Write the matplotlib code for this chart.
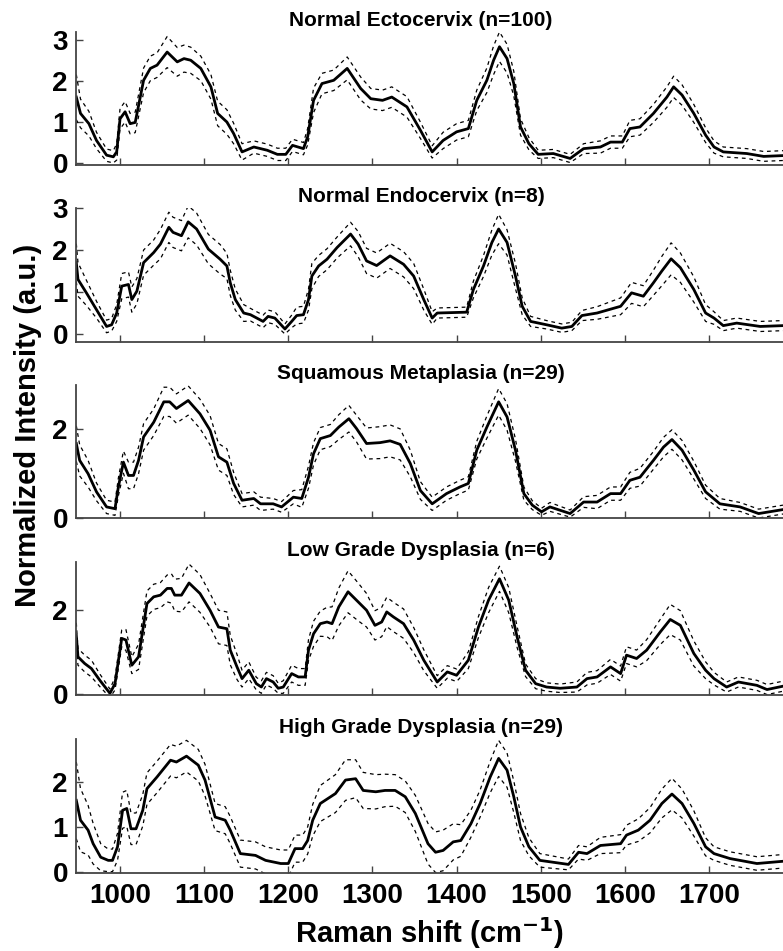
import matplotlib
matplotlib.use("Agg")
import matplotlib.pyplot as plt
import numpy as np

# panel titles and y ticks
titles = ["Normal Ectocervix (n=100)", "Normal Endocervix (n=8)",
          "Squamous Metaplasia (n=29)", "Low Grade Dysplasia (n=6)",
          "High Grade Dysplasia (n=29)"]
yticks = [[0, 1, 2, 3], [0, 1, 2, 3], [0, 2], [0, 2], [0, 1, 2]]
ylims = [(-0.05, 3.2), (-0.19, 3.0), (0, 3.0), (-0.02, 3.15), (-0.02, 2.95)]
xticks = [1000, 1100, 1200, 1300, 1400, 1500, 1600, 1700]

# Normal Ectocervix: mean and std
x1 = [948, 953, 963, 972, 984, 992, 996, 1000, 1006, 1012, 1018, 1028, 1036, 1044, 1056, 1068, 1076, 1084, 1096, 1108,
      1116, 1127, 1135, 1145, 1159, 1175, 1187, 1197, 1205, 1218, 1223, 1230, 1240, 1254, 1270, 1286, 1298, 1312, 1323, 1341,
      1357, 1371, 1384, 1400, 1414, 1424, 1436, 1444, 1451, 1460, 1468, 1476, 1486, 1497, 1515, 1535, 1551, 1571, 1583, 1597,
      1606, 1618, 1634, 1650, 1658, 1668, 1682, 1696, 1706, 1717, 1745, 1765, 1788]
m1 = [1.61, 1.21, 0.96, 0.55, 0.19, 0.15, 0.27, 1.08, 1.25, 0.96, 0.99, 2.02, 2.31, 2.39, 2.71, 2.47, 2.55, 2.51, 2.31, 1.86,
      1.21, 1.00, 0.72, 0.27, 0.39, 0.31, 0.21, 0.21, 0.43, 0.35, 0.64, 1.53, 1.94, 2.02, 2.31, 1.82, 1.57, 1.53, 1.61, 1.37,
      0.80, 0.27, 0.55, 0.76, 0.84, 1.53, 2.02, 2.51, 2.84, 2.55, 1.94, 0.88, 0.47, 0.21, 0.23, 0.11, 0.35, 0.39, 0.51, 0.51,
      0.84, 0.88, 1.21, 1.61, 1.86, 1.66, 1.21, 0.68, 0.39, 0.27, 0.23, 0.16, 0.18]
s1 = [0.55, 0.35, 0.3, 0.2, 0.15, 0.15, 0.2, 0.25, 0.25, 0.25, 0.25, 0.3, 0.3, 0.3, 0.38, 0.35, 0.33, 0.32, 0.3, 0.3,
      0.3, 0.3, 0.25, 0.2, 0.15, 0.15, 0.15, 0.15, 0.15, 0.15, 0.2, 0.3, 0.25, 0.25, 0.28, 0.28, 0.25, 0.25, 0.25, 0.25,
      0.2, 0.15, 0.2, 0.2, 0.2, 0.25, 0.3, 0.35, 0.36, 0.35, 0.3, 0.2, 0.15, 0.1, 0.1, 0.1, 0.12, 0.15, 0.15, 0.15,
      0.2, 0.2, 0.22, 0.25, 0.26, 0.25, 0.22, 0.18, 0.15, 0.12, 0.12, 0.12, 0.12]

# Normal Endocervix
x2 = [948, 950, 960, 972, 984, 990, 996, 1002, 1010, 1014, 1020, 1028, 1040, 1048, 1058, 1063, 1073, 1081, 1091, 1105,
      1119, 1127, 1131, 1137, 1147, 1155, 1170, 1176, 1184, 1196, 1204, 1210, 1218, 1224, 1228, 1236, 1246, 1258, 1274, 1283,
      1293, 1305, 1321, 1337, 1349, 1361, 1371, 1377, 1412, 1420, 1432, 1442, 1450, 1460, 1470, 1478, 1488, 1507, 1525, 1537,
      1549, 1567, 1595, 1608, 1622, 1634, 1644, 1655, 1666, 1682, 1696, 1706, 1717, 1733, 1761, 1788]
m2 = [1.70, 1.30, 0.98, 0.58, 0.18, 0.22, 0.50, 1.14, 1.18, 0.82, 1.02, 1.70, 1.94, 2.14, 2.54, 2.42, 2.34, 2.67, 2.50, 2.02,
      1.78, 1.62, 1.22, 0.82, 0.50, 0.46, 0.30, 0.42, 0.38, 0.12, 0.30, 0.44, 0.46, 0.82, 1.38, 1.62, 1.78, 2.06, 2.38, 2.14,
      1.74, 1.63, 1.86, 1.66, 1.38, 0.82, 0.38, 0.50, 0.52, 1.06, 1.62, 2.18, 2.50, 2.18, 1.38, 0.66, 0.30, 0.22, 0.14, 0.18,
      0.44, 0.50, 0.66, 0.98, 0.90, 1.22, 1.50, 1.79, 1.58, 1.06, 0.50, 0.38, 0.20, 0.26, 0.18, 0.20]
s2 = [0.45, 0.4, 0.3, 0.2, 0.15, 0.15, 0.2, 0.3, 0.3, 0.3, 0.3, 0.3, 0.3, 0.35, 0.36, 0.36, 0.36, 0.38, 0.38, 0.35,
      0.35, 0.3, 0.3, 0.25, 0.2, 0.15, 0.15, 0.15, 0.15, 0.12, 0.15, 0.2, 0.2, 0.25, 0.3, 0.25, 0.25, 0.25, 0.28, 0.3,
      0.3, 0.3, 0.3, 0.3, 0.3, 0.25, 0.15, 0.12, 0.12, 0.2, 0.25, 0.3, 0.35, 0.3, 0.3, 0.2, 0.12, 0.1, 0.1, 0.1,
      0.12, 0.15, 0.2, 0.25, 0.25, 0.3, 0.35, 0.38, 0.35, 0.3, 0.2, 0.15, 0.12, 0.12, 0.12, 0.12]

# Squamous Metaplasia
x3 = [948, 952, 962, 972, 984, 994, 998, 1004, 1010, 1016, 1022, 1028, 1040, 1052, 1059, 1067, 1081, 1095, 1107, 1117,
      1127, 1135, 1145, 1159, 1167, 1182, 1192, 1206, 1216, 1224, 1230, 1238, 1250, 1260, 1272, 1281, 1293, 1309, 1321, 1333,
      1345, 1357, 1371, 1388, 1404, 1414, 1424, 1436, 1450, 1460, 1470, 1480, 1490, 1501, 1511, 1535, 1551, 1567, 1583, 1595,
      1606, 1618, 1634, 1646, 1656, 1668, 1682, 1696, 1713, 1737, 1759, 1788]
m3 = [1.68, 1.30, 1.00, 0.59, 0.25, 0.21, 0.70, 1.26, 0.96, 0.96, 1.30, 1.83, 2.16, 2.62, 2.62, 2.47, 2.65, 2.35, 1.98, 1.38,
      1.26, 0.78, 0.40, 0.44, 0.32, 0.32, 0.25, 0.47, 0.44, 0.92, 1.45, 1.79, 1.86, 2.05, 2.24, 2.02, 1.68, 1.70, 1.74, 1.66,
      1.23, 0.62, 0.32, 0.55, 0.70, 0.78, 1.53, 2.05, 2.62, 2.28, 1.53, 0.55, 0.29, 0.14, 0.25, 0.10, 0.36, 0.36, 0.55, 0.55,
      0.85, 0.92, 1.30, 1.60, 1.77, 1.53, 1.08, 0.59, 0.32, 0.25, 0.10, 0.19]
s3 = [0.4, 0.35, 0.3, 0.2, 0.15, 0.15, 0.2, 0.25, 0.3, 0.3, 0.3, 0.3, 0.3, 0.33, 0.33, 0.33, 0.33, 0.33, 0.33, 0.3,
      0.3, 0.25, 0.15, 0.15, 0.15, 0.12, 0.12, 0.15, 0.2, 0.25, 0.25, 0.25, 0.25, 0.28, 0.3, 0.3, 0.35, 0.36, 0.36, 0.35,
      0.3, 0.2, 0.15, 0.15, 0.15, 0.15, 0.2, 0.25, 0.3, 0.3, 0.25, 0.15, 0.1, 0.08, 0.1, 0.08, 0.12, 0.15, 0.15, 0.15,
      0.18, 0.2, 0.2, 0.22, 0.22, 0.22, 0.2, 0.15, 0.12, 0.1, 0.1, 0.1]

# Low Grade Dysplasia
x4 = [948, 950, 958, 966, 976, 988, 994, 1002, 1007, 1014, 1022, 1032, 1040, 1048, 1056, 1061, 1065, 1073, 1082, 1095,
      1107, 1117, 1127, 1131, 1139, 1145, 1153, 1162, 1168, 1174, 1182, 1188, 1194, 1204, 1212, 1220, 1224, 1230, 1238, 1246,
      1252, 1260, 1271, 1283, 1293, 1303, 1311, 1317, 1325, 1337, 1349, 1361, 1377, 1389, 1400, 1414, 1426, 1438, 1451, 1462,
      1472, 1482, 1494, 1507, 1523, 1543, 1555, 1567, 1583, 1595, 1602, 1614, 1626, 1642, 1654, 1666, 1682, 1696, 1706, 1721,
      1735, 1757, 1769, 1788]
m4 = [1.40, 0.89, 0.73, 0.61, 0.33, 0.02, 0.25, 1.33, 1.29, 0.69, 0.89, 2.16, 2.32, 2.36, 2.52, 2.52, 2.36, 2.36, 2.65, 2.40,
      2.00, 1.60, 1.56, 1.05, 0.65, 0.37, 0.57, 0.25, 0.17, 0.37, 0.29, 0.14, 0.17, 0.49, 0.41, 0.41, 1.05, 1.44, 1.68, 1.72,
      1.68, 2.08, 2.44, 2.20, 2.00, 1.64, 1.72, 1.96, 1.84, 1.68, 1.29, 0.81, 0.29, 0.53, 0.45, 0.81, 1.60, 2.24, 2.75, 2.24,
      1.36, 0.57, 0.25, 0.17, 0.14, 0.17, 0.37, 0.41, 0.65, 0.49, 0.93, 0.85, 1.05, 1.48, 1.78, 1.64, 0.97, 0.57, 0.37, 0.17,
      0.29, 0.21, 0.11, 0.19]
s4 = [0.3, 0.2, 0.2, 0.2, 0.15, 0.1, 0.15, 0.2, 0.25, 0.2, 0.3, 0.3, 0.3, 0.3, 0.32, 0.35, 0.38, 0.4, 0.45, 0.45,
      0.4, 0.4, 0.4, 0.35, 0.3, 0.2, 0.2, 0.15, 0.15, 0.15, 0.15, 0.12, 0.15, 0.2, 0.2, 0.2, 0.25, 0.3, 0.3, 0.35,
      0.4, 0.45, 0.5, 0.45, 0.4, 0.35, 0.35, 0.35, 0.35, 0.35, 0.3, 0.25, 0.15, 0.15, 0.15, 0.2, 0.25, 0.3, 0.3, 0.3,
      0.25, 0.15, 0.12, 0.1, 0.1, 0.12, 0.15, 0.15, 0.18, 0.18, 0.2, 0.2, 0.25, 0.3, 0.36, 0.35, 0.3, 0.2, 0.15, 0.12,
      0.12, 0.12, 0.12, 0.12]

# High Grade Dysplasia
x5 = [948, 953, 962, 968, 977, 986, 991, 997, 1003, 1008, 1013, 1019, 1027, 1032, 1044, 1060, 1067, 1079, 1093, 1101,
      1113, 1125, 1131, 1143, 1161, 1173, 1191, 1200, 1208, 1217, 1223, 1229, 1238, 1256, 1268, 1280, 1289, 1304, 1315, 1327,
      1339, 1351, 1366, 1375, 1384, 1396, 1405, 1417, 1428, 1440, 1450, 1460, 1468, 1476, 1486, 1499, 1533, 1545, 1555, 1571,
      1595, 1602, 1616, 1630, 1644, 1656, 1668, 1682, 1696, 1706, 1725, 1757, 1788]
m5 = [1.59, 1.15, 0.93, 0.63, 0.33, 0.26, 0.26, 0.56, 1.37, 1.41, 0.96, 0.96, 1.37, 1.85, 2.11, 2.48, 2.44, 2.57, 2.37, 2.04,
      1.22, 1.15, 0.93, 0.41, 0.37, 0.26, 0.19, 0.19, 0.52, 0.52, 0.70, 1.15, 1.52, 1.74, 2.04, 2.07, 1.81, 1.78, 1.81, 1.81,
      1.67, 1.30, 0.63, 0.44, 0.48, 0.67, 0.70, 1.07, 1.52, 2.11, 2.52, 2.26, 1.67, 1.00, 0.56, 0.26, 0.17, 0.44, 0.41, 0.59,
      0.63, 0.82, 0.93, 1.15, 1.52, 1.73, 1.52, 1.08, 0.56, 0.41, 0.30, 0.19, 0.24]
s5 = [0.85, 0.7, 0.55, 0.45, 0.3, 0.25, 0.25, 0.3, 0.4, 0.4, 0.35, 0.35, 0.35, 0.35, 0.35, 0.35, 0.35, 0.35, 0.35, 0.35,
      0.3, 0.3, 0.3, 0.3, 0.3, 0.3, 0.3, 0.3, 0.3, 0.3, 0.3, 0.35, 0.4, 0.42, 0.45, 0.42, 0.4, 0.38, 0.36, 0.35,
      0.35, 0.4, 0.45, 0.45, 0.45, 0.4, 0.35, 0.3, 0.3, 0.35, 0.4, 0.38, 0.35, 0.3, 0.2, 0.15, 0.12, 0.15, 0.15, 0.18,
      0.2, 0.22, 0.25, 0.28, 0.32, 0.35, 0.32, 0.28, 0.2, 0.15, 0.15, 0.15, 0.15]

xs = [x1, x2, x3, x4, x5]
means = [m1, m2, m3, m4, m5]
stds = [s1, s2, s3, s4, s5]

plt.rcParams["font.family"] = ["Liberation Sans", "DejaVu Sans"]
plt.rcParams["font.weight"] = "bold"

W, H = 783, 951
fig = plt.figure(figsize=(W / 100, H / 100), dpi=100)

# axes top / bottom in pixels
tops = [32, 208, 385, 562, 739]
bots = [165, 342, 518, 695, 873]
left = 76.3

for i in range(5):
    ax = fig.add_axes([left / W, 1 - bots[i] / H, 1 - left / W, (bots[i] - tops[i]) / H])
    x = np.array(xs[i])
    m = np.array(means[i])
    s = np.array(stds[i])
    ax.plot(x, m + s, color="k", lw=0.9, dashes=(3, 3))
    ax.plot(x, m - s, color="k", lw=0.9, dashes=(3, 3))
    ax.plot(x, m, color="k", lw=2.0)
    ax.set_xlim(948, 1788)
    ax.set_ylim(*ylims[i])
    ax.set_yticks(yticks[i])
    ax.set_xticks(xticks)
    for sp in ["top", "right"]:
        ax.spines[sp].set_visible(False)
    for sp in ["left", "bottom"]:
        ax.spines[sp].set_color("#444444")
        ax.spines[sp].set_linewidth(1.3)
    ax.tick_params(direction="in", length=5, width=1.0, color="#444444",
                   labelsize=20, pad=6)
    ax.tick_params(axis="x", pad=7)
    if i < 4:
        ax.set_xticklabels([])
    ax.set_title(titles[i], fontsize=15, fontweight="bold", pad=4, x=0.488)

fig.text(28 / W, 1 - 425 / H, "Normalized Intensity (a.u.)", rotation=90,
         ha="center", va="center", fontsize=21, fontweight="bold")
fig.text(430 / W, 1 - 933 / H, "Raman shift (cm$^{\\mathbf{-1}}$)",
         ha="center", va="center", fontsize=21, fontweight="bold")

fig.savefig("out.png", dpi=100)
